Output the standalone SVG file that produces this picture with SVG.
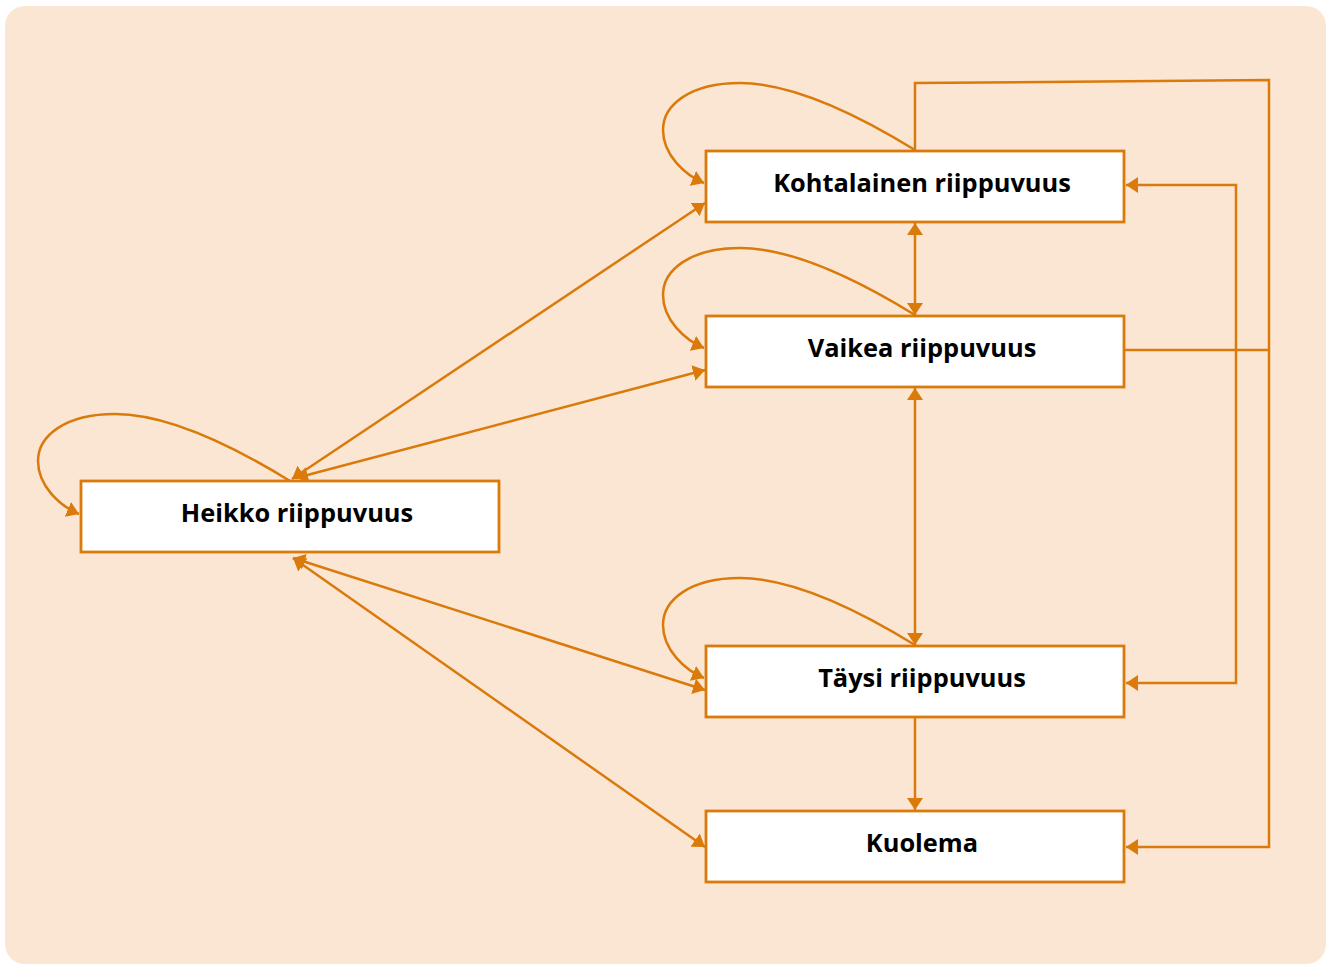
<svg xmlns="http://www.w3.org/2000/svg" width="1326" height="966" viewBox="0 0 1326 966">
<defs>
<marker id="arr" viewBox="0 -8 12 16" refX="12" refY="0" markerWidth="12" markerHeight="16" markerUnits="userSpaceOnUse" orient="auto-start-reverse">
<path d="M0,-8 L12,0 L0,8 z" fill="#D97A0B"/>
</marker>
<style>
.box{fill:#FFFFFF;stroke:#D97A0B;stroke-width:2.8}
.lbl{font-family:"Open Sans","Noto Sans",sans-serif;font-weight:bold;font-size:25.4px;fill:#000;text-anchor:middle}
.ln{fill:none;stroke:#D97A0B;stroke-width:2.5}
</style>
</defs>
<rect x="5" y="6" width="1321" height="958" rx="20" fill="#FBE6D4"/>
<g id="connectors">
<path id="loop-k" class="ln" d="M915,150 C850,110 790,83 740,83 C690,83 663,105 663,130 C663,155 685,175 704,183" marker-end="url(#arr)"/>
<path class="ln" transform="translate(0,165)" d="M915,150 C850,110 790,83 740,83 C690,83 663,105 663,130 C663,155 685,175 704,183" marker-end="url(#arr)"/>
<path class="ln" transform="translate(0,495)" d="M915,150 C850,110 790,83 740,83 C690,83 663,105 663,130 C663,155 685,175 704,183" marker-end="url(#arr)"/>
<path class="ln" transform="translate(-625,331)" d="M915,150 C850,110 790,83 740,83 C690,83 663,105 663,130 C663,155 685,175 704,183" marker-end="url(#arr)"/>
<path class="ln" d="M292,479 L705,203" marker-start="url(#arr)" marker-end="url(#arr)"/>
<path class="ln" d="M296,478 L705,370" marker-start="url(#arr)" marker-end="url(#arr)"/>
<path class="ln" d="M293,558 L705,690" marker-start="url(#arr)" marker-end="url(#arr)"/>
<path class="ln" d="M293,558 L705,847" marker-start="url(#arr)" marker-end="url(#arr)"/>
<path class="ln" d="M915,223 L915,315" marker-start="url(#arr)" marker-end="url(#arr)"/>
<path class="ln" d="M915,388 L915,645" marker-start="url(#arr)" marker-end="url(#arr)"/>
<path class="ln" d="M915,718 L915,810" marker-end="url(#arr)"/>
<path class="ln" d="M915,150 L915,83 L1269,80 L1269,847 L1126,847" marker-end="url(#arr)"/>
<path class="ln" d="M1125,350 L1269,350"/>
<path class="ln" d="M1126,185 L1236,185 L1236,683 L1126,683" marker-start="url(#arr)" marker-end="url(#arr)"/>
</g>
<g id="node-kohtalainen"><rect class="box" x="706" y="151" width="418" height="71"/><text class="lbl" x="922" y="192">Kohtalainen riippuvuus</text></g>
<g id="node-vaikea"><rect class="box" x="706" y="316" width="418" height="71"/><text class="lbl" x="922" y="357">Vaikea riippuvuus</text></g>
<g id="node-heikko"><rect class="box" x="81" y="481" width="418" height="71"/><text class="lbl" x="297" y="522">Heikko riippuvuus</text></g>
<g id="node-taysi"><rect class="box" x="706" y="646" width="418" height="71"/><text class="lbl" x="922" y="687">Täysi riippuvuus</text></g>
<g id="node-kuolema"><rect class="box" x="706" y="811" width="418" height="71"/><text class="lbl" x="922" y="852">Kuolema</text></g>
</svg>
